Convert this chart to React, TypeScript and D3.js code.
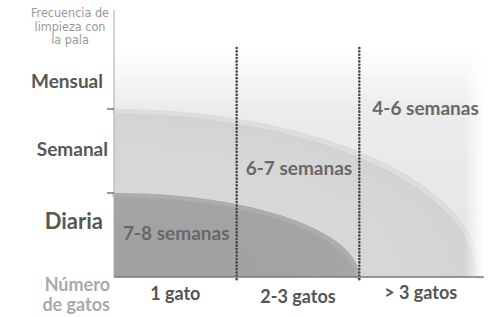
import React from "react"
import * as d3 from "d3"

// frequency levels (bottom to top) and cat-count groups
const frequencies = ["Diaria", "Semanal", "Mensual"]
const catGroups = ["1 gato", "2-3 gatos", "> 3 gatos"]
const regionLabels = ["7-8 semanas", "6-7 semanas", "4-6 semanas"]
// where each curved boundary meets the x axis (band units) and the y axis (level units)
const boundaryX = [2, 3]
const boundaryY = [1, 2]
const yTitle = ["Frecuencia de", "limpieza con", "la pala"]
const xTitle = ["Número", "de gatos"]

const W = 494
const H = 317
const FONT = "Lato, 'Open Sans', sans-serif"

function App() {
    const x = d3.scaleLinear().domain([0, 3]).range([114, 482])
    const y = d3.scaleLinear().domain([0, 3]).range([277, 25])

    const quarter = (bx, by) => {
        const pts = d3.range(0, 91, 2).map(deg => {
            const t = (deg * Math.PI) / 180
            return [x(0) + (x(bx) - x(0)) * Math.sin(t), y(0) - (y(0) - y(by)) * Math.cos(t)]
        })
        return pts
    }
    const areaPath = (bx, by) => {
        const pts = quarter(bx, by)
        return d3.line()([[x(0), y(0)], ...pts, [x(0), y(0)]]) + "Z"
    }
    const arcPath = (bx, by) => d3.line()(quarter(bx, by))

    const yLabelLevel = [0.66, 1.52, 2.33]
    const yLabelSize = [22, 19, 19]
    const regionPos = [
        { b: 0, lvl: 0.44, dx: 9 },
        { b: 1, lvl: 1.21, dx: 9 },
        { b: 2, lvl: 1.93, dx: 13 },
    ]
    const xLabelDy = [23, 26, 22]

    return (
        <svg width={W} height={H} style={{ position: "absolute", left: 0, top: 0, background: "#fff" }}>
            <defs>
                <linearGradient id="topBg" x1="0" y1="0" x2="0" y2="1">
                    <stop offset="0" stopColor="#ffffff" />
                    <stop offset="0.25" stopColor="#ececec" />
                    <stop offset="1" stopColor="#e4e4e4" />
                </linearGradient>
                <linearGradient id="rightFade" x1="0" y1="0" x2="1" y2="0">
                    <stop offset="0" stopColor="#fff" stopOpacity="0" />
                    <stop offset="1" stopColor="#fff" stopOpacity="0.9" />
                </linearGradient>
                <radialGradient id="lightFill" cx="0" cy="1" r="1">
                    <stop offset="0" stopColor="#dadada" />
                    <stop offset="0.85" stopColor="#d6d6d6" />
                    <stop offset="1" stopColor="#d2d2d2" />
                </radialGradient>
                <radialGradient id="darkFill" cx="0.1" cy="0.9" r="1">
                    <stop offset="0" stopColor="#a0a0a0" />
                    <stop offset="0.8" stopColor="#a4a4a4" />
                    <stop offset="1" stopColor="#acacac" />
                </radialGradient>
            </defs>

            {/* plot background */}
            <rect x={x(0)} y={50} width={x(3) - x(0)} height={y(0) - 50} fill="url(#topBg)" />

            {/* light and dark regions */}
            <path d={areaPath(boundaryX[1], boundaryY[1])} fill="url(#lightFill)" />
            <path d={arcPath(boundaryX[1], boundaryY[1])} fill="none" stroke="#e4e4e4" strokeWidth={5} strokeOpacity={0.6} transform="translate(-2,2)" />
            <path d={areaPath(boundaryX[0], boundaryY[0])} fill="url(#darkFill)" />
            <path d={arcPath(boundaryX[0], boundaryY[0])} fill="none" stroke="#b4b4b4" strokeWidth={4} strokeOpacity={0.5} transform="translate(-2,2)" />

            <rect x={x(3) - 18} y={50} width={18} height={y(0) - 50} fill="url(#rightFade)" />

            {/* dotted band separators */}
            {[1, 2].map(b => (
                <line key={b} x1={x(b)} x2={x(b)} y1={48} y2={280}
                    stroke="#444" strokeWidth={2.6} strokeDasharray="0 3.35" strokeLinecap="round" />
            ))}

            {/* axes */}
            <line x1={x(0)} x2={x(0)} y1={10} y2={y(0)} stroke="#aaa" strokeWidth={1} />
            <line x1={x(0)} x2={x(3) + 2} y1={y(0)} y2={y(0)} stroke="#7a7a7a" strokeWidth={1.5} />
            {[1, 2].map(l => (
                <line key={l} x1={x(0) - 7} x2={x(0)} y1={y(l)} y2={y(l)} stroke="#555" strokeWidth={1.2} />
            ))}

            {/* y axis title */}
            <text textAnchor="middle" fill="#999" fontFamily="'Liberation Sans Narrow', 'DejaVu Sans Condensed', sans-serif" fontSize={12.5}>
                {yTitle.map((t, i) => (
                    <tspan key={i} x={70} y={17 + i * 13.5}>{t}</tspan>
                ))}
            </text>

            {/* frequency labels */}
            {frequencies.map((f, i) => (
                <text key={f} x={i === 1 ? 108 : 103} y={y(yLabelLevel[i])} dy="0.35em" textAnchor="end"
                    fill="#575757" fontFamily={FONT} fontWeight={700} fontSize={yLabelSize[i]}>{f}</text>
            ))}

            {/* region labels */}
            {regionLabels.map((r, i) => (
                <text key={r} x={x(regionPos[i].b) + regionPos[i].dx} y={y(regionPos[i].lvl)}
                    fill="#686868" fontFamily={FONT} fontWeight={700} fontSize={19}>{r}</text>
            ))}

            {/* cat group labels */}
            {catGroups.map((c, i) => (
                <text key={c} x={x(i + 0.5)} y={y(0) + xLabelDy[i]} textAnchor="middle"
                    fill="#555" fontFamily={FONT} fontWeight={700} fontSize={18}>{c}</text>
            ))}

            {/* x axis title */}
            <text textAnchor="end" fill="#aaa" fontFamily={FONT} fontWeight={700} fontSize={18}>
                {xTitle.map((t, i) => (
                    <tspan key={i} x={110} y={291 + i * 20}>{t}</tspan>
                ))}
            </text>
        </svg>
    )
}

export default App
